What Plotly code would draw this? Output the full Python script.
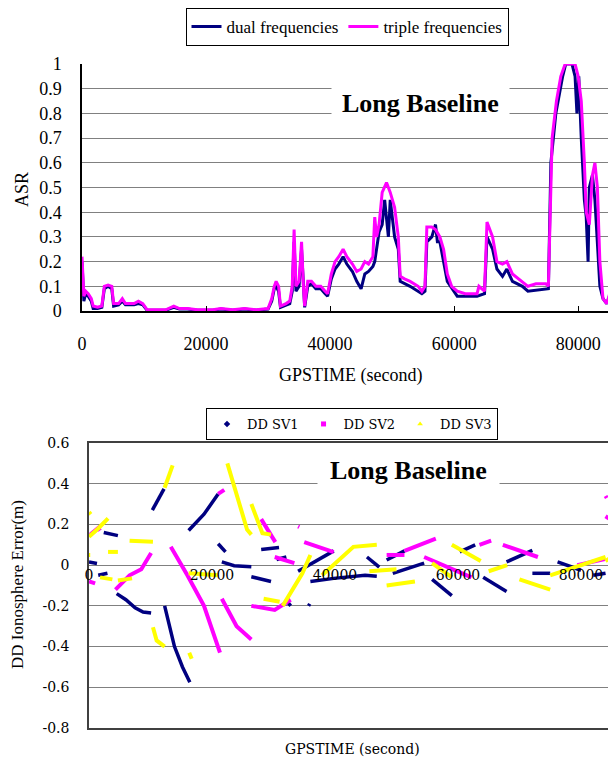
import plotly.graph_objects as go

# The page body has an 8px margin, so the figure is drawn 8px in from the top-left
# corner of the 616x758 window; the figure is sized to fill the rest.
OFF = 8
W, H = 616 - OFF, 758 - OFF


def px(x):
    return (x - OFF) / W


def py(y):
    return 1 - (y - OFF) / H


# ---------------- top chart data (ASR) ----------------
triple_t = [0,300,600,1000,1500,1800,2500,3200,3600,4200,4800,5100,5900,6500,7000,8400,9100,9800,10500,
            13500,14800,15700,17000,18600,21100,22400,24300,26200,28100,30000,30600,31000,31300,31700,32000,
            32900,33500,33900,34200,34500,35000,35400,35700,35900,36400,37000,37700,38500,39200,39600,40200,
            40800,41400,42100,42700,43600,44300,45000,45600,46200,46900,47200,47500,47900,48400,49100,49700,
            50400,51000,51300,52000,52900,54200,54800,55300,55600,56400,57000,57700,58300,58900,59600,60500,
            61800,63700,64000,64900,65300,66200,66900,67800,68500,69400,71000,71900,73200,74800,75200,75500,
            75800,76500,77200,77900,79500,80000,80500,81000,81300,81800,82300,82700,83100,83500,84000,84600,
            85200,85800,86100]
triple_v = [0.22,0.06,0.08,0.07,0.05,0.02,0.015,0.02,0.10,0.105,0.10,0.03,0.03,0.05,0.03,0.03,0.04,0.03,0.005,
            0.005,0.02,0.01,0.01,0.005,0.005,0.01,0.005,0.01,0.005,0.01,0.05,0.10,0.12,0.10,0.02,
            0.03,0.04,0.10,0.33,0.10,0.12,0.28,0.10,0.02,0.12,0.12,0.10,0.10,0.08,0.07,0.15,
            0.20,0.22,0.25,0.22,0.19,0.16,0.17,0.20,0.19,0.22,0.38,0.30,0.35,0.48,0.52,0.48,
            0.42,0.30,0.14,0.13,0.12,0.10,0.08,0.10,0.34,0.34,0.33,0.30,0.25,0.15,0.10,0.08,
            0.07,0.07,0.10,0.08,0.36,0.30,0.20,0.19,0.20,0.15,0.12,0.10,0.11,0.11,0.10,0.45,
            0.70,0.85,0.95,1.00,1.00,0.95,0.85,0.60,0.40,0.35,0.55,0.60,0.50,0.20,0.05,0.03,
            0.08,0.15,0.10]

dual_t = [0,300,600,1000,1500,1800,2500,3200,3600,4200,4800,5100,5900,6500,7000,8400,9100,9800,10500,
          13500,14800,15700,17000,18600,21100,22400,24300,26200,28100,30000,30600,31000,31300,31700,32000,
          32900,33500,33900,34200,34500,35000,35400,35700,35900,36400,37000,37700,38500,39200,39600,40200,
          40800,41400,42100,42700,43600,44300,45000,45600,46200,46900,47200,47900,48400,48800,49100,49400,
          49700,50400,51000,51300,52900,54800,55300,55600,56400,57000,57300,57700,58300,58900,60500,63700,
          64900,65300,66200,66900,67800,68500,69400,71000,71900,74800,75200,75600,76400,77500,78000,79000,
          79500,79800,80100,80500,81000,81300,81600,81800,82300,82700,83000,83500,84000,84600,85200,85800,86100]
dual_v = [0.20,0.04,0.07,0.06,0.04,0.01,0.01,0.015,0.09,0.10,0.09,0.02,0.025,0.04,0.025,0.025,0.03,0.025,0.003,
          0.003,0.015,0.008,0.008,0.003,0.003,0.008,0.003,0.008,0.003,0.008,0.04,0.09,0.10,0.08,0.015,
          0.025,0.03,0.08,0.28,0.08,0.10,0.25,0.08,0.015,0.10,0.11,0.09,0.09,0.07,0.06,0.13,
          0.17,0.19,0.22,0.19,0.16,0.12,0.09,0.15,0.16,0.18,0.20,0.32,0.35,0.45,0.38,0.30,
          0.45,0.30,0.25,0.12,0.10,0.07,0.08,0.28,0.30,0.35,0.28,0.28,0.20,0.12,0.06,0.06,
          0.07,0.30,0.25,0.17,0.14,0.17,0.12,0.10,0.08,0.09,0.09,0.60,0.80,0.95,1.00,1.00,
          0.95,0.80,0.95,0.70,0.45,0.38,0.20,0.50,0.55,0.45,0.30,0.10,0.05,0.03,0.07,0.12,0.08]

# ---------------- bottom chart data (DD ionosphere error) ----------------
# segments separated by None
sv1_t = [0,1300,None, 2400,4700,None, 1500,3000,None, 4500,6000,7500,8800,10100,None,
         12300,13900,15200,16400,None, 16200,18700,21000,None, 10300,12200,None, 21000,22200,None,
         21600,23600,26400,None, 26400,29600,None, 28000,30900,None, 30500,32100,None, 32000,32800,None,
         34000,39800,None, 35700,35900,None, 36000,39800,44900,46800,None, 45200,47200,None,
         48400,51300,None, 49400,54500,None, 55800,59000,None, 60300,62800,None, 64100,67900,None,
         67900,72100,None, 72100,75000,None, 76200,80000,None, 82000,84000]
sv1_v = [0.015,0.008,None, 0.16,0.145,None, -0.05,-0.04,None, -0.14,-0.17,-0.21,-0.23,-0.235,None,
         -0.20,-0.40,-0.50,-0.575,None, 0.17,0.25,0.35,None, 0.27,0.375,None, 0.105,0.065,None,
         0.016,-0.003,-0.008,None, -0.057,-0.08,None, 0.077,0.087,None, 0.028,0.04,None, -0.17,-0.20,None,
         -0.03,0.07,None, -0.20,-0.19,None, -0.08,-0.065,-0.05,-0.055,None, 0.04,-0.01,None,
         0.025,0.07,None, -0.04,0.01,None, -0.07,-0.15,None, 0.065,0.10,None, -0.06,-0.13,None,
         0.016,0.073,None, -0.04,-0.04,None, 0.016,-0.025,None, -0.05,-0.04]

sv2_t = [200,1500,1800,None, 0,1000,None, 4300,6600,8500,10100,None, 13300,16000,18700,21300,None,
         21000,22000,None, 21600,24000,26400,None, 26400,30200,32800,None, 30200,33400,None, 34000,34200,None,
         35000,39800,None, 28000,30300,None, 48400,51300,None, 51300,56400,None, 54500,62200,None,
         63500,65400,None, 67300,73000,None, 79400,83900,None, 84000,84200,None, 84000,85500]
sv2_v = [0.15,0.183,0.17,None, -0.08,-0.09,None, -0.12,-0.05,-0.02,0.06,None, 0.09,-0.05,-0.20,-0.43,None,
         0.35,0.37,None, -0.165,-0.30,-0.365,None, -0.20,-0.22,-0.17,None, 0.04,0.01,None, 0.19,0.187,None,
         0.113,0.064,None, 0.226,0.113,None, 0.05,0.05,None, 0.07,0.13,None, 0.04,-0.06,None,
         0.10,0.12,None, 0.10,0.04,None, 0.00,0.03,None, 0.34,0.33,None, 0.24,0.21]

sv3_t = [0,300,None, 0,200,None, 0,1500,3100,None, 3100,4700,None, 1800,3800,None, 4700,7000,None,
         6600,10400,None, 10400,11000,12300,None, 12300,13600,None, 22500,24000,25700,26400,None,
         26400,28200,29600,None, 16200,21000,None, 16300,16700,None, 28400,31000,None,
         31500,34700,36000,None, 37900,43000,46800,None,
         45600,50000,None, 48400,53000,None, 55800,59000,None, 59000,63700,None, 65000,68000,None,
         70000,75000,None, 75000,80000,84000,None, 84000,85500]
sv3_v = [0.26,0.25,None, 0.05,0.05,None, 0.14,0.18,0.23,None, 0.065,0.065,None, -0.06,-0.07,None, -0.075,-0.065,None,
         0.12,0.115,None, -0.305,-0.37,-0.40,None, 0.38,0.49,None, 0.50,0.35,0.175,0.15,None,
         0.30,0.157,0.15,None, -0.04,-0.05,None, -0.43,-0.46,None, -0.165,-0.18,None,
         -0.20,-0.04,0.05,None, -0.05,0.09,0.10,None,
         -0.03,-0.02,None, -0.10,-0.08,None, 0.01,-0.06,None, 0.10,0.02,None, -0.03,0.0,None,
         -0.07,-0.12,None, -0.05,0.0,0.04,None, 0.02,0.05]

top_yticks = [0, 0.1, 0.2, 0.3, 0.4, 0.5, 0.6, 0.7, 0.8, 0.9, 1]
top_ytext = ["0", "0.1", "0.2", "0.3", "0.4", "0.5", "0.6", "0.7", "0.8", "0.9", "1"]
xticks = [0, 20000, 40000, 60000, 80000]
xtext = [str(v) for v in xticks]
bot_yticks = [-0.8, -0.6, -0.4, -0.2, 0, 0.2, 0.4, 0.6]
bot_ytext = ["-0.8", "-0.6", "-0.4", "-0.2", "0", "0.2", "0.4", "0.6"]

NAVY = "#000080"
MAG = "#FF00FF"
YEL = "#FFFF00"
SERIF = "Liberation Serif, Times New Roman, serif"
SERIF2 = "DejaVu Serif, serif"

fig = go.Figure()

fig.add_trace(go.Scatter(x=dual_t, y=dual_v, mode="lines", name="dual frequencies",
                         line=dict(color=NAVY, width=3), xaxis="x", yaxis="y", legend="legend"))
fig.add_trace(go.Scatter(x=triple_t, y=triple_v, mode="lines", name="triple frequencies",
                         line=dict(color=MAG, width=3), xaxis="x", yaxis="y", legend="legend"))

fig.add_trace(go.Scatter(x=sv1_t, y=sv1_v, mode="lines", showlegend=False, connectgaps=False,
                         line=dict(color=NAVY, width=3.5), xaxis="x2", yaxis="y2"))
fig.add_trace(go.Scatter(x=sv2_t, y=sv2_v, mode="lines", showlegend=False, connectgaps=False,
                         line=dict(color=MAG, width=4), xaxis="x2", yaxis="y2"))
fig.add_trace(go.Scatter(x=sv3_t, y=sv3_v, mode="lines", showlegend=False, connectgaps=False,
                         line=dict(color=YEL, width=4), xaxis="x2", yaxis="y2"))
# legend entries for the bottom chart
for nm, col, sym in [("DD SV1", NAVY, "diamond"), ("DD SV2", MAG, "square"), ("DD SV3", YEL, "triangle-up")]:
    fig.add_trace(go.Scatter(x=[None], y=[None], mode="markers", name=nm,
                             marker=dict(color=col, symbol=sym, size=5),
                             xaxis="x2", yaxis="y2", legend="legend2"))
# helper (empty) traces so the label-only axes are drawn
fig.add_trace(go.Scatter(x=[None], y=[None], mode="markers", showlegend=False, xaxis="x3", yaxis="y2"))
fig.add_trace(go.Scatter(x=[None], y=[None], mode="markers", showlegend=False, xaxis="x4", yaxis="y"))

fig.update_layout(
    width=W, height=H, margin=dict(l=0, r=0, t=0, b=0, autoexpand=False),
    paper_bgcolor="white", plot_bgcolor="white",
    font=dict(family=SERIF, color="black"),
    xaxis=dict(domain=[px(82), 1], range=[0, 86100], tickvals=xticks, showticklabels=False,
               showgrid=False, zeroline=False, showline=True, linecolor="black", linewidth=1.5,
               ticks="inside", ticklen=5, tickcolor="black", anchor="y", automargin=False),
    xaxis4=dict(overlaying="x", anchor="free", position=py(331), range=[0, 86100],
                tickvals=xticks, ticktext=xtext, showgrid=False, zeroline=False, showline=False,
                ticks="", side="bottom", tickfont=dict(family=SERIF, size=18), automargin=False),
    yaxis=dict(domain=[py(311), py(64)], range=[0, 1], tickvals=top_yticks, ticktext=top_ytext,
               showgrid=True, gridcolor="#808080", gridwidth=1, zeroline=False,
               showline=True, linecolor="black", linewidth=1.5, ticks="", ticklabelstandoff=15,
               tickfont=dict(family=SERIF, size=18), anchor="x", automargin=False),
    xaxis2=dict(domain=[px(89), 1], range=[0, 85700], showticklabels=False, ticks="",
                showgrid=False, zeroline=False, showline=True, linecolor="#404040", linewidth=1.5,
                mirror=True, anchor="y2", automargin=False),
    xaxis3=dict(overlaying="x2", anchor="free", position=py(565), range=[0, 85700],
                tickvals=xticks, ticktext=xtext, showgrid=False, zeroline=False,
                showline=False, ticks="", side="bottom",
                tickfont=dict(family=SERIF2, size=14), automargin=False),
    yaxis2=dict(domain=[py(728), py(443)], range=[-0.8, 0.6], tickvals=bot_yticks, ticktext=bot_ytext,
                showgrid=True, gridcolor="#808080", gridwidth=1, zeroline=False,
                showline=True, linecolor="#404040", linewidth=1.5, ticks="", ticklabelstandoff=15,
                tickfont=dict(family=SERIF2, size=14), anchor="x2", automargin=False),
    legend=dict(orientation="h", x=px(347), xanchor="center", y=1, yanchor="top",
                bordercolor="black", borderwidth=1, bgcolor="white",
                font=dict(family=SERIF, size=17), itemwidth=30, tracegroupgap=0),
    legend2=dict(orientation="h", x=px(352), xanchor="center", y=py(408), yanchor="top",
                 bordercolor="black", borderwidth=1, bgcolor="white",
                 font=dict(family=SERIF2, size=13), itemwidth=30),
    annotations=[
        dict(text="<b>Long Baseline</b>", xref="paper", yref="paper", x=px(420), y=py(103),
             showarrow=False, font=dict(family=SERIF, size=26), bgcolor="white", borderpad=10,
             xanchor="center", yanchor="middle"),
        dict(text="<b>Long Baseline</b>", xref="paper", yref="paper", x=px(408), y=py(470),
             showarrow=False, font=dict(family=SERIF, size=26), bgcolor="white", borderpad=12,
             xanchor="center", yanchor="middle"),
        dict(text="ASR", xref="paper", yref="paper", x=px(22), y=py(190), textangle=-90,
             showarrow=False, font=dict(family=SERIF, size=18), xanchor="center", yanchor="middle"),
        dict(text="GPSTIME (second)", xref="paper", yref="paper", x=px(350), y=py(375),
             showarrow=False, font=dict(family=SERIF, size=18), xanchor="center", yanchor="middle"),
        dict(text="DD Ionosphere Error(m)", xref="paper", yref="paper", x=px(17), y=py(585),
             textangle=-90, showarrow=False, font=dict(family=SERIF, size=17),
             xanchor="center", yanchor="middle"),
        dict(text="GPSTIME (second)", xref="paper", yref="paper", x=px(352), y=py(749),
             showarrow=False, font=dict(family=SERIF2, size=14), xanchor="center", yanchor="middle"),
    ],
)

fig.write_html("out.html")
